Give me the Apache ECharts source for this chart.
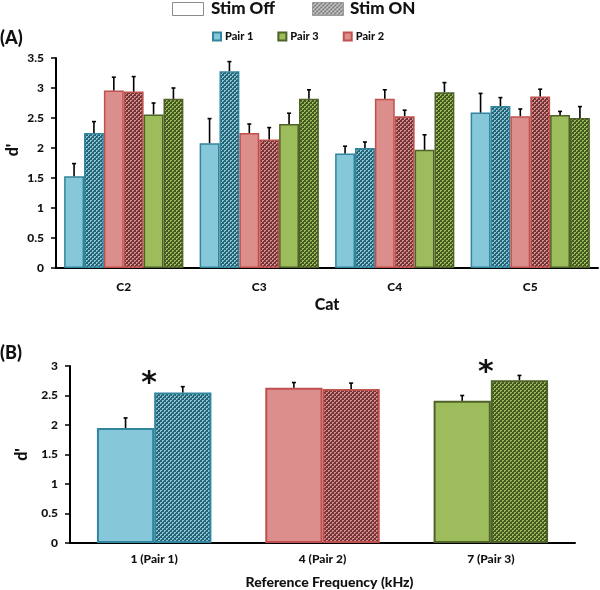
<!DOCTYPE html>
<html>
<head>
<meta charset="utf-8">
<script src="https://cdn.jsdelivr.net/npm/echarts@6/dist/echarts.min.js"></script>
<style>
html,body{margin:0;padding:0;background:#fff;}
#chart{width:600px;height:590px;}
</style>
</head>
<body>
<div id="chart"></div>
<script>
// ---------- Data ----------
const categoriesA = ['C2', 'C3', 'C4', 'C5'];
const pair1Off = [1.53, 2.08, 1.91, 2.59];
const pair1OffErr = [0.21, 0.41, 0.12, 0.32];
const pair1On = [2.25, 3.28, 2.00, 2.70];
const pair1OnErr = [0.19, 0.16, 0.10, 0.14];
const pair2Off = [2.96, 2.25, 2.82, 2.53];
const pair2OffErr = [0.22, 0.15, 0.15, 0.12];
const pair2On = [2.94, 2.14, 2.53, 2.86];
const pair2OnErr = [0.25, 0.20, 0.10, 0.12];
const pair3Off = [2.56, 2.40, 1.97, 2.55];
const pair3OffErr = [0.19, 0.18, 0.25, 0.06];
const pair3On = [2.82, 2.82, 2.93, 2.50];
const pair3OnErr = [0.18, 0.15, 0.16, 0.19];
const yTicksA = [0, 3.5, 0.5]; // min, max, interval

const categoriesB = ['1 (Pair 1)', '4 (Pair 2)', '7 (Pair 3)'];
const offB = [1.95, 2.63, 2.41];
const offBErr = [0.17, 0.09, 0.09];
const onB = [2.55, 2.61, 2.76];
const onBErr = [0.10, 0.10, 0.08];
const significantB = [true, false, true];
const yTicksB = [0, 3, 0.5];

// ---------- Styles ----------
const FONT = 'Lato, "Open Sans", sans-serif';
const W = 900;
const light = ['#86c8da', '#db8e8c', '#9dbd5c'];
const dark = ['#2a6373', '#70363a', '#44591f'];
const border = ['#31859c', '#c0504d', '#4f6228'];

function pattern(lightC, darkC) {
  const c = document.createElement('canvas');
  c.width = 4; c.height = 4;
  const ctx = c.getContext('2d');
  ctx.fillStyle = lightC; ctx.fillRect(0, 0, 4, 4);
  ctx.fillStyle = darkC;
  // halftone-like dots, ~55% dark
  ctx.fillRect(0, 0, 2, 1); ctx.fillRect(0, 1, 1, 1); ctx.fillRect(3, 1, 1, 1);
  ctx.fillRect(2, 2, 2, 1); ctx.fillRect(2, 3, 1, 1); ctx.fillRect(1, 3, 1, 1);
  ctx.fillRect(1, 1, 1, 1); ctx.fillRect(3, 3, 1, 1);
  return {image: c, repeat: 'repeat'};
}
const onFill = [0, 1, 2].map(i => pattern(light[i], dark[i]));
const greyFill = pattern('#e6e6e6', '#7a7a7a');

const gapA = 0.12, nA = 6;
const gapB = 0.32, nB = 2;

function errSeries(xAxisIndex, yAxisIndex, vals, errs, k, n, gap) {
  return {
    type: 'custom', xAxisIndex, yAxisIndex, z: 10, silent: true,
    data: vals.map((v, i) => [i, v, errs[i]]),
    renderItem(params, api) {
      const idx = api.value(0), v = api.value(1), e = api.value(2);
      const band = api.size([1, 0])[0];
      const bw = band * (1 - gap) / n;
      const p0 = api.coord([idx, v]);
      const p1 = api.coord([idx, v + e]);
      const x = p0[0] + (k - (n - 1) / 2) * bw;
      const st = {stroke: '#000', lineWidth: 1.6};
      return {type: 'group', children: [
        {type: 'line', shape: {x1: x, y1: p0[1], x2: x, y2: p1[1]}, style: st},
        {type: 'line', shape: {x1: x - 2, y1: p1[1], x2: x + 2, y2: p1[1]}, style: st}
      ]};
    }
  };
}

function barA(name, vals, fill, bc) {
  return {
    name, type: 'bar', xAxisIndex: 0, yAxisIndex: 0, data: vals,
    barGap: '0%', barCategoryGap: (gapA * 100) + '%',
    itemStyle: {color: fill, borderColor: bc, borderWidth: 1.5},
    emphasis: {disabled: true}
  };
}

const seriesA = [
  barA('Pair 1', pair1Off, light[0], border[0]),
  barA('Pair 1 ON', pair1On, onFill[0], border[0]),
  barA('Pair 2', pair2Off, light[1], border[1]),
  barA('Pair 2 ON', pair2On, onFill[1], border[1]),
  barA('Pair 3', pair3Off, light[2], border[2]),
  barA('Pair 3 ON', pair3On, onFill[2], border[2]),
  errSeries(0, 0, pair1Off, pair1OffErr, 0, nA, gapA),
  errSeries(0, 0, pair1On, pair1OnErr, 1, nA, gapA),
  errSeries(0, 0, pair2Off, pair2OffErr, 2, nA, gapA),
  errSeries(0, 0, pair2On, pair2OnErr, 3, nA, gapA),
  errSeries(0, 0, pair3Off, pair3OffErr, 4, nA, gapA),
  errSeries(0, 0, pair3On, pair3OnErr, 5, nA, gapA)
];

const seriesB = [
  {
    name: 'Stim Off', type: 'bar', xAxisIndex: 1, yAxisIndex: 1,
    barGap: '0%', barCategoryGap: (gapB * 100) + '%',
    data: offB.map((v, i) => ({value: v, itemStyle: {color: light[i], borderColor: border[i], borderWidth: 2}})),
    emphasis: {disabled: true}
  },
  {
    name: 'Stim ON', type: 'bar', xAxisIndex: 1, yAxisIndex: 1,
    data: onB.map((v, i) => ({value: v, itemStyle: {color: onFill[i], borderColor: border[i], borderWidth: 2}})),
    emphasis: {disabled: true}
  },
  errSeries(1, 1, offB, offBErr, 0, nB, gapB),
  errSeries(1, 1, onB, onBErr, 1, nB, gapB),
  {
    type: 'custom', xAxisIndex: 1, yAxisIndex: 1, z: 11, silent: true,
    data: onB.map((v, i) => [i, v + onBErr[i], significantB[i] ? 1 : 0]).filter(d => d[2]),
    renderItem(params, api) {
      const p = api.coord([api.value(0), api.value(1)]);
      return {type: 'text', x: p[0] - 5, y: p[1] - 2,
        style: {text: '*', font: 'bold 30px "DejaVu Sans", sans-serif', fill: '#111', align: 'center', verticalAlign: 'middle'}};
    }
  }
];

const axisLabelStyle = {fontFamily: FONT, fontWeight: W, fontSize: 12, color: '#111'};

const option = {
  animation: false,
  backgroundColor: '#fff',
  textStyle: {fontFamily: FONT},
  legend: {
    data: ['Pair 1', 'Pair 3', 'Pair 2'],
    left: 207, top: 26, itemWidth: 8, itemHeight: 8, itemGap: 24,
    icon: 'rect', selectedMode: false,
    textStyle: {fontFamily: FONT, fontWeight: W, fontSize: 11, color: '#111', padding: [0, 0, 0, -1]}
  },
  grid: [
    {left: 56, top: 58, width: 542, height: 210},
    {left: 70, top: 366, width: 505, height: 177}
  ],
  xAxis: [
    {type: 'category', gridIndex: 0, data: categoriesA,
     axisLine: {lineStyle: {color: '#000', width: 2}}, axisTick: {show: false},
     axisLabel: Object.assign({margin: 13}, axisLabelStyle),
     name: 'Cat', nameLocation: 'middle', nameGap: 29,
     nameTextStyle: {fontFamily: FONT, fontWeight: W, fontSize: 16, color: '#111'}},
    {type: 'category', gridIndex: 1, data: categoriesB,
     axisLine: {lineStyle: {color: '#000', width: 2}}, axisTick: {show: false},
     axisLabel: Object.assign({margin: 10}, axisLabelStyle),
     name: 'Reference Frequency (kHz)', nameLocation: 'middle', nameGap: 32,
     nameTextStyle: {fontFamily: FONT, fontWeight: W, fontSize: 14, color: '#111', padding: [0, 0, 0, 14]}}
  ],
  yAxis: [
    {type: 'value', gridIndex: 0, min: yTicksA[0], max: yTicksA[1], interval: yTicksA[2],
     splitLine: {show: false},
     axisLine: {show: true, lineStyle: {color: '#000', width: 2}},
     axisTick: {show: true, length: 5, lineStyle: {color: '#000', width: 1.5}},
     axisLabel: Object.assign({margin: 12}, axisLabelStyle)},
    {type: 'value', gridIndex: 1, min: yTicksB[0], max: yTicksB[1], interval: yTicksB[2],
     splitLine: {show: false},
     axisLine: {show: true, lineStyle: {color: '#000', width: 2}},
     axisTick: {show: true, length: 5, lineStyle: {color: '#000', width: 1.5}},
     axisLabel: Object.assign({margin: 12}, axisLabelStyle),
     name: "d'", nameLocation: 'middle', nameGap: 40, nameRotate: 90,
     nameTextStyle: {fontFamily: FONT, fontWeight: W, fontSize: 16, color: '#111'}}
  ],
  graphic: [
    {type: 'rect', left: 172, top: 2, shape: {width: 31, height: 13},
     style: {fill: '#fff', stroke: '#8a8a8a', lineWidth: 1}},
    {type: 'text', left: 211, top: 0,
     style: {text: 'Stim Off', font: W + ' 17px ' + FONT, fill: '#111'}},
    {type: 'rect', left: 312, top: 2, shape: {width: 31, height: 13},
     style: {fill: greyFill, stroke: '#9a9a9a', lineWidth: 1}},
    {type: 'text', left: 350, top: 0,
     style: {text: 'Stim ON', font: W + ' 17px ' + FONT, fill: '#111'}},
    {type: 'text', left: 0, top: 29,
     style: {text: '(A)', font: W + ' 18px ' + FONT, fill: '#111'}},
    {type: 'text', left: 0, top: 344,
     style: {text: '(B)', font: W + ' 18px ' + FONT, fill: '#111'}},
    {type: 'text', x: 13, y: 150, rotation: Math.PI / 2,
     style: {text: "d'", font: W + ' 16px ' + FONT, fill: '#111', align: 'center', verticalAlign: 'middle'}}
  ],
  series: seriesA.concat(seriesB)
};

const chart = echarts.init(document.getElementById('chart'), null, {renderer: 'canvas'});
chart.setOption(option);
</script>
</body>
</html>
